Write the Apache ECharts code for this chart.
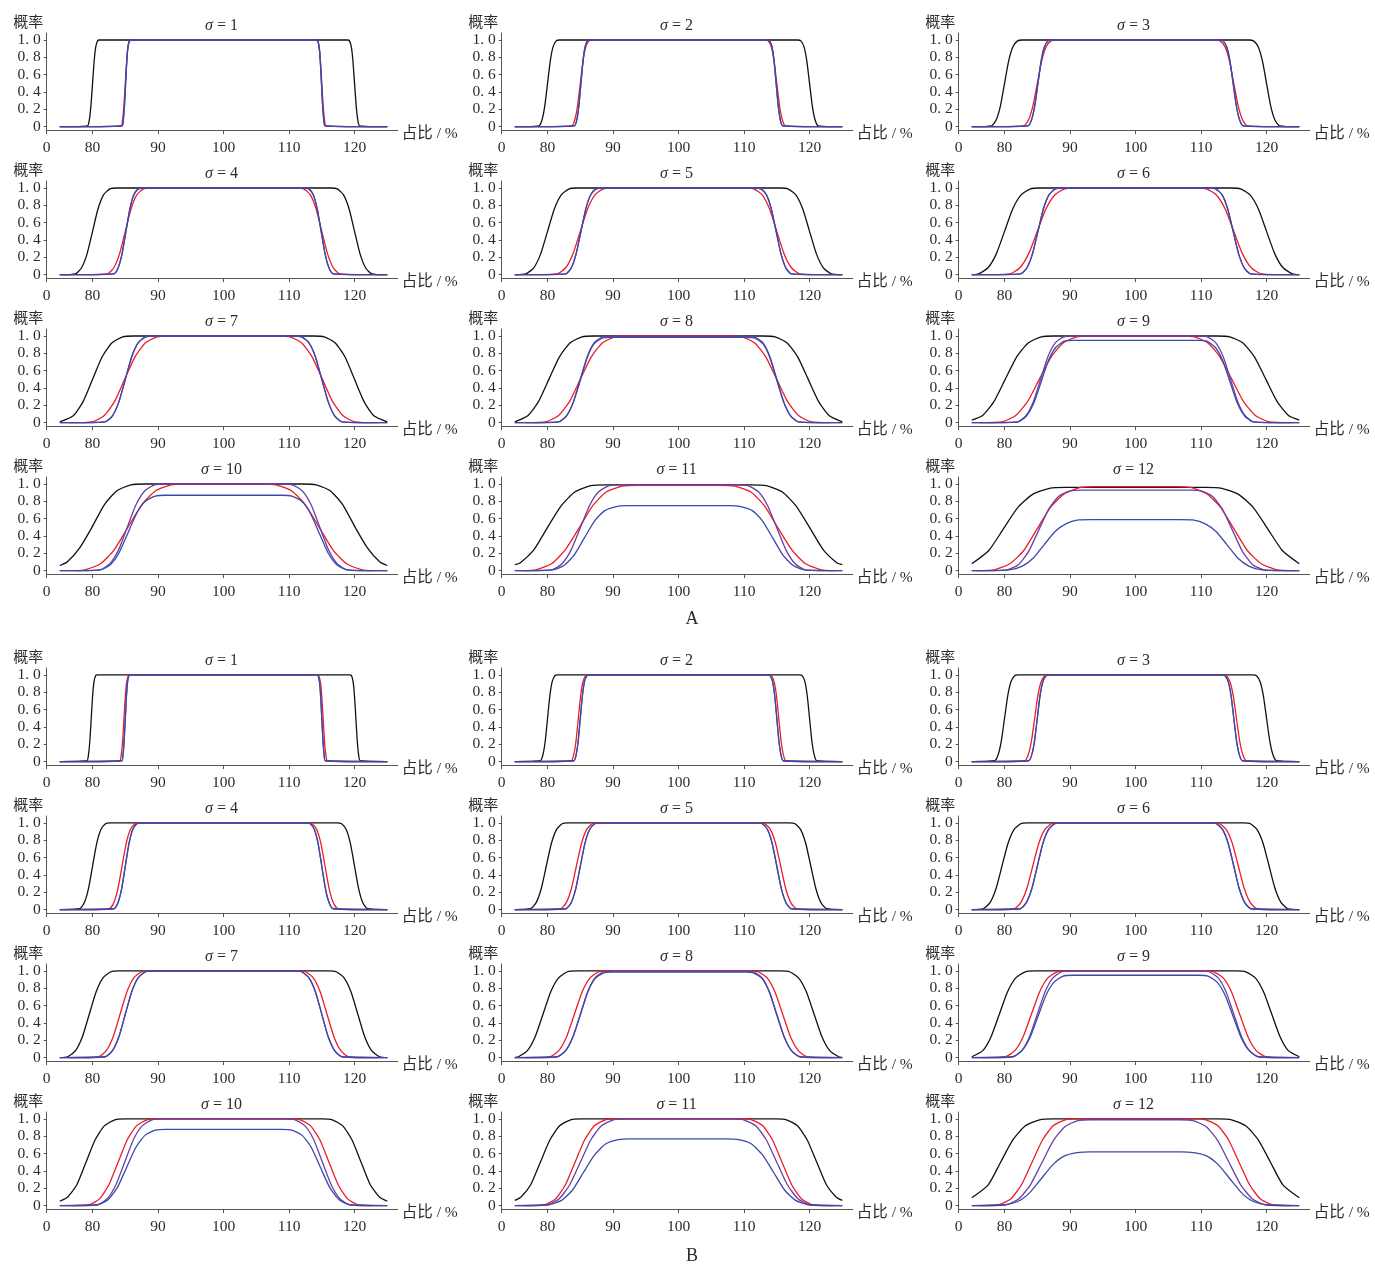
<!DOCTYPE html>
<html><head><meta charset="utf-8">
<script src="https://cdn.jsdelivr.net/npm/echarts@6/dist/echarts.min.js"></script>
<style>html,body{margin:0;padding:0;background:#fff}#c{width:1375px;height:1265px}</style>
</head><body><div id="c"></div>
<script>
// ---------- axis / labels ----------
const sigmas = [1,2,3,4,5,6,7,8,9,10,11,12];
const groupNames = ['A','B'];
const xTickValues = [73,80,90,100,110,120];
const xTickLabels = ['0','80','90','100','110','120'];
const yTickValues = [0,0.2,0.4,0.6,0.8,1.0];
const yTickLabels = ['0','0. 2','0. 4','0. 6','0. 8','1. 0'];
const xAxisName = '占比 / %';
const yAxisName = '概率';

// ---------- group A ----------
const A1_black=[[75,0],[79.23,.01],[79.51,.08],[79.75,.24],[80,.5],[80.25,.76],[80.49,.92],[80.77,.99],[81.05,1],[118.95,1],[119.23,.99],[119.51,.92],[119.75,.76],[120,.5],[120.25,.24],[120.49,.08],[120.77,.01],[125,0]];
const A1_red=[[75,0],[84.34,.01],[84.58,.08],[84.79,.24],[85,.5],[85.21,.76],[85.42,.92],[85.66,.99],[85.9,1],[114.1,1],[114.34,.99],[114.58,.92],[114.79,.76],[115,.5],[115.21,.24],[115.42,.08],[115.66,.01],[125,0]];
const A1_blue=[[75,0],[84.5,.01],[84.7,.08],[84.87,.24],[85.05,.5],[85.23,.76],[85.4,.92],[85.6,.99],[85.8,1],[114.2,1],[114.4,.99],[114.6,.92],[114.77,.76],[114.95,.5],[115.13,.24],[115.3,.08],[115.5,.01],[125,0]];
const A1_purple=A1_blue;

const A2_black=[[75,0],[78.68,.01],[79.16,.08],[79.58,.24],[80,.5],[80.42,.76],[80.84,.92],[81.32,.99],[81.8,1],[118.2,1],[118.68,.99],[119.16,.92],[119.58,.76],[120,.5],[120.42,.24],[120.84,.08],[121.32,.01],[125,0]];
const A2_red=[[75,0],[83.68,.01],[84.16,.08],[84.58,.24],[85,.5],[85.42,.76],[85.84,.92],[86.32,.99],[86.8,1],[113.2,1],[113.68,.99],[114.16,.92],[114.58,.76],[115,.5],[115.42,.24],[115.84,.08],[116.32,.01],[125,0]];
const A2_blue=[[75,0],[84.11,.01],[84.47,.08],[84.78,.24],[85.1,.5],[85.42,.76],[85.73,.92],[86.09,.99],[86.45,1],[113.55,1],[113.91,.99],[114.27,.92],[114.58,.76],[114.9,.5],[115.22,.24],[115.53,.08],[115.89,.01],[125,0]];
const A2_purple=A2_blue;

const A3_black=[[75,0],[78.02,.01],[78.74,.08],[79.37,.24],[80,.5],[80.63,.76],[81.26,.92],[81.98,.99],[82.7,1],[117.3,1],[118.02,.99],[118.74,.92],[119.37,.76],[120,.5],[120.63,.24],[121.26,.08],[121.98,.01],[125,0]];
const A3_red=[[75,0],[82.91,.01],[83.67,.08],[84.33,.24],[85,.5],[85.67,.76],[86.33,.92],[87.09,.99],[87.85,1],[112.15,1],[112.91,.99],[113.67,.92],[114.33,.76],[115,.5],[115.67,.24],[116.33,.08],[117.09,.01],[125,0]];
const A3_blue=[[75,0],[83.56,.01],[84.12,.08],[84.61,.24],[85.1,.5],[85.59,.76],[86.08,.92],[86.64,.99],[87.2,1],[112.8,1],[113.36,.99],[113.92,.92],[114.41,.76],[114.9,.5],[115.39,.24],[115.88,.08],[116.44,.01],[125,0]];
const A3_purple=A3_blue;

const A4_black=[[75,0],[77.36,.01],[78.32,.08],[79.16,.24],[80,.5],[80.84,.76],[81.68,.92],[82.64,.99],[83.6,1],[116.4,1],[117.36,.99],[118.32,.92],[119.16,.76],[120,.5],[120.84,.24],[121.68,.08],[122.64,.01],[125,0]];
const A4_red=[[75,0],[82.25,.01],[83.25,.08],[84.12,.24],[85,.5],[85.88,.76],[86.75,.92],[87.75,.99],[88.75,1],[111.25,1],[112.25,.99],[113.25,.92],[114.12,.76],[115,.5],[115.88,.24],[116.75,.08],[117.75,.01],[125,0]];
const A4_blue=[[75,0],[83.23,.01],[83.91,.08],[84.5,.24],[85.1,.5],[85.7,.76],[86.29,.92],[86.97,.99],[87.65,1],[112.35,1],[113.03,.99],[113.71,.92],[114.3,.76],[114.9,.5],[115.5,.24],[116.09,.08],[116.77,.01],[125,0]];
const A4_purple=A4_blue;

const A5_black=[[75,0],[76.7,.01],[77.9,.08],[78.95,.24],[80,.5],[81.05,.76],[82.1,.92],[83.3,.99],[84.5,1],[115.5,1],[116.7,.99],[117.9,.92],[118.95,.76],[120,.5],[121.05,.24],[122.1,.08],[123.3,.01],[125,0]];
const A5_red=[[75,0],[81.48,.01],[82.76,.08],[83.88,.24],[85,.5],[86.12,.76],[87.24,.92],[88.52,.99],[89.8,1],[110.2,1],[111.48,.99],[112.76,.92],[113.88,.76],[115,.5],[116.12,.24],[117.24,.08],[118.52,.01],[125,0]];
const A5_blue=[[75,0],[82.79,.01],[83.63,.08],[84.36,.24],[85.1,.5],[85.84,.76],[86.57,.92],[87.41,.99],[88.25,1],[111.75,1],[112.59,.99],[113.43,.92],[114.16,.76],[114.9,.5],[115.64,.24],[116.37,.08],[117.21,.01],[125,0]];
const A5_purple=A5_blue;

const A6_black=[[75,0],[76.04,.01],[77.48,.08],[78.74,.24],[80,.5],[81.26,.76],[82.52,.92],[83.96,.99],[85.4,1],[114.6,1],[116.04,.99],[117.48,.92],[118.74,.76],[120,.5],[121.26,.24],[122.52,.08],[123.96,.01],[125,0]];
const A6_red=[[75,0],[80.82,.01],[82.34,.08],[83.67,.24],[85,.5],[86.33,.76],[87.66,.92],[89.18,.99],[90.7,1],[109.3,1],[110.82,.99],[112.34,.92],[113.67,.76],[115,.5],[116.33,.24],[117.66,.08],[119.18,.01],[125,0]];
const A6_blue=[[75,0],[82.46,.01],[83.42,.08],[84.26,.24],[85.1,.5],[85.94,.76],[86.78,.92],[87.74,.99],[88.7,1],[111.3,1],[112.26,.99],[113.22,.92],[114.06,.76],[114.9,.5],[115.74,.24],[116.58,.08],[117.54,.01],[125,0]];
const A6_purple=A6_blue;

const A7_black=[[75,.01],[77.06,.08],[78.53,.24],[80,.5],[81.47,.76],[82.94,.92],[84.62,.99],[86.3,1],[113.7,1],[115.38,.99],[117.06,.92],[118.53,.76],[120,.5],[121.47,.24],[122.94,.08],[125,.01]];
const A7_red=[[76.5,0],[79.95,.01],[81.75,.08],[83.32,.24],[84.9,.5],[86.48,.76],[88.05,.92],[89.85,.99],[91.65,1],[108.35,1],[110.15,.99],[111.95,.92],[113.52,.76],[115.1,.5],[116.68,.24],[118.25,.08],[120.05,.01],[123.5,0]];
const A7_blue=[[75,0],[81.92,.01],[83.04,.08],[84.02,.24],[85,.5],[85.98,.76],[86.96,.92],[88.08,.99],[89.2,1],[110.8,1],[111.92,.99],[113.04,.92],[114.02,.76],[115,.5],[115.98,.24],[116.96,.08],[118.08,.01],[125,0]];
const A7_purple=A7_blue;

const A8_black=[[75,.01],[76.98,.08],[78.59,.24],[80.2,.5],[81.81,.76],[83.42,.92],[85.26,.99],[87.1,1],[112.9,1],[114.74,.99],[116.58,.92],[118.19,.76],[119.8,.5],[121.41,.24],[123.02,.08],[125,.01]];
const A8_red=[[76.8,0],[79.72,.01],[81.64,.08],[83.32,.24],[85,.5],[86.68,.76],[88.36,.92],[90.28,.99],[92.2,1],[107.8,1],[109.72,.99],[111.64,.92],[113.32,.76],[115,.5],[116.68,.24],[118.36,.08],[120.28,.01],[123.2,0]];
const A8_purple=[[75,0],[81.7,.01],[82.9,.08],[83.95,.24],[85,.5],[86.05,.76],[87.1,.92],[88.3,.985],[89.5,.995],[110.5,.995],[111.7,.985],[112.9,.92],[113.95,.76],[115,.5],[116.05,.24],[117.1,.08],[118.3,.01],[125,0]];
const A8_blue=[[75,0],[81.7,.01],[82.9,.08],[83.95,.24],[85,.49],[86.05,.75],[87.1,.91],[88.3,.975],[89.5,.985],[110.5,.985],[111.7,.975],[112.9,.91],[113.95,.75],[115,.49],[116.05,.24],[117.1,.08],[118.3,.01],[125,0]];

const A9_black=[[75,.03],[76.6,.08],[78.35,.24],[80.1,.5],[81.85,.76],[83.6,.92],[85.6,.99],[87.6,1],[112.4,1],[114.4,.99],[116.4,.92],[118.15,.76],[119.9,.5],[121.65,.24],[123.4,.08],[125,.03]];
const A9_red=[[76.2,0],[79.58,.01],[81.66,.08],[83.48,.24],[85.3,.5],[87.12,.76],[88.94,.92],[91.02,.99],[93.1,1],[106.9,1],[108.98,.99],[111.06,.92],[112.88,.76],[114.7,.5],[116.52,.24],[118.34,.08],[120.42,.01],[123.8,0]];
const A9_purple=[[75,0],[81.98,.01],[83.26,.08],[84.38,.24],[85.5,.5],[86.62,.76],[87.74,.92],[89.02,.99],[90.3,1],[109.7,1],[110.98,.99],[112.26,.92],[113.38,.76],[114.5,.5],[115.62,.24],[116.74,.08],[118.02,.01],[125,0]];
const A9_blue=[[75,0],[82.08,.01],[83.36,.08],[84.48,.23],[85.6,.475],[86.72,.72],[87.84,.87],[89.12,.94],[90.4,.95],[109.6,.95],[110.88,.94],[112.16,.87],[113.28,.72],[114.4,.475],[115.52,.23],[116.64,.08],[117.92,.01],[125,0]];

const A10_black=[[75,.06],[76.12,.1],[78.01,.26],[79.9,.5],[81.79,.76],[83.68,.92],[85.84,.99],[88,1],[112,1],[114.16,.99],[116.32,.92],[118.21,.76],[120.1,.5],[121.99,.26],[123.88,.1],[125,.06]];
const A10_red=[[77.3,0],[78.8,.01],[81.2,.08],[83.3,.24],[85.4,.5],[87.5,.76],[89.6,.92],[92,.99],[94.4,1],[105.6,1],[108,.99],[110.4,.92],[112.5,.76],[114.6,.5],[116.7,.24],[118.8,.08],[121.2,.01],[122.7,0]];
const A10_purple=[[75,0],[81.12,.01],[82.64,.08],[83.97,.24],[85.3,.5],[86.63,.76],[87.96,.92],[89.48,.99],[91,1],[109,1],[110.52,.99],[112.04,.92],[113.37,.76],[114.7,.5],[116.03,.24],[117.36,.08],[118.88,.01],[125,0]];
const A10_blue=[[75,0],[81.22,.01],[82.74,.07],[84.07,.21],[85.4,.435],[86.73,.66],[88.06,.8],[89.58,.86],[91.1,.87],[108.9,.87],[110.42,.86],[111.94,.8],[113.27,.66],[114.6,.435],[115.93,.21],[117.26,.07],[118.78,.01],[125,0]];

const A11_black=[[75,.07],[75.8,.09],[77.9,.24],[80,.5],[82.1,.75],[84.2,.91],[86.6,.98],[89,.99],[111,.99],[113.4,.98],[115.8,.91],[117.9,.75],[120,.5],[122.1,.24],[124.2,.09],[125,.07]];
const A11_red=[[76.1,0],[78.2,.01],[80.6,.08],[82.7,.24],[84.8,.49],[86.9,.75],[89,.91],[91.4,.975],[93.8,.985],[106.2,.985],[108.6,.975],[111,.91],[113.1,.75],[115.2,.49],[117.3,.24],[119.4,.08],[121.8,.01],[123.9,0]];
const A11_purple=[[75,0],[80.6,.01],[82.2,.08],[83.6,.24],[85,.495],[86.4,.75],[87.8,.91],[89.4,.98],[91,.99],[109,.99],[110.6,.98],[112.2,.91],[113.6,.75],[115,.495],[116.4,.24],[117.8,.08],[119.4,.01],[125,0]];
const A11_blue=[[75,0],[80.76,.01],[82.52,.06],[84.06,.18],[85.6,.375],[87.14,.57],[88.68,.69],[90.52,.74],[92.2,.75],[107.8,.75],[109.48,.74],[111.32,.69],[112.86,.57],[114.4,.375],[115.94,.18],[117.48,.06],[119.24,.01],[125,0]];

const A12_black=[[75,.08],[77.56,.23],[79.8,.48],[82.04,.73],[84.28,.88],[86.84,.95],[89.4,.96],[110.6,.96],[113.16,.95],[115.72,.88],[117.96,.73],[120.2,.48],[122.44,.23],[125,.08]];
const A12_red=[[75.7,0],[78.4,.01],[80.8,.08],[82.9,.23],[85,.485],[87.1,.74],[89.2,.89],[91.6,.96],[94,.97],[106,.97],[108.4,.96],[110.8,.89],[112.9,.74],[115,.485],[117.1,.23],[119.2,.08],[121.6,.01],[124.3,0]];
const A12_purple=[[75,0],[80.36,.01],[82.12,.07],[83.66,.22],[85.2,.465],[86.74,.71],[88.28,.86],[90.04,.92],[91.8,.93],[108.2,.93],[109.96,.92],[111.72,.86],[113.26,.71],[114.8,.465],[116.34,.22],[117.88,.07],[119.64,.01],[125,0]];
const A12_blue=[[75,0],[80.72,.01],[82.64,.05],[84.32,.14],[86,.295],[87.68,.45],[89.36,.54],[91.28,.585],[93.2,.59],[106.8,.59],[108.72,.585],[110.64,.54],[112.32,.45],[114,.295],[115.68,.14],[117.36,.05],[119.28,.01],[125,0]];

// ---------- group B ----------
const B1_black=[[75,0],[79.14,.01],[79.38,.08],[79.59,.24],[79.8,.5],[80.01,.76],[80.22,.92],[80.46,.99],[80.7,1],[119.3,1],[119.54,.99],[119.78,.92],[119.99,.76],[120.2,.5],[120.41,.24],[120.62,.08],[120.86,.01],[125,0]];
const B1_red=[[75,0],[84.14,.01],[84.38,.08],[84.59,.24],[84.8,.5],[85.01,.76],[85.22,.92],[85.46,.99],[85.7,1],[114.3,1],[114.54,.99],[114.78,.92],[114.99,.76],[115.2,.5],[115.41,.24],[115.62,.08],[115.86,.01],[125,0]];
const B1_blue=[[75,0],[84.45,.01],[84.65,.08],[84.82,.24],[85,.5],[85.18,.76],[85.35,.92],[85.55,.99],[85.75,1],[114.25,1],[114.45,.99],[114.65,.92],[114.82,.76],[115,.5],[115.18,.24],[115.35,.08],[115.55,.01],[125,0]];
const B1_purple=B1_blue;

const B2_black=[[75,0],[78.9,.01],[79.3,.08],[79.65,.24],[80,.5],[80.35,.76],[80.7,.92],[81.1,.99],[81.5,1],[118.5,1],[118.9,.99],[119.3,.92],[119.65,.76],[120,.5],[120.35,.24],[120.7,.08],[121.1,.01],[125,0]];
const B2_red=[[75,0],[83.6,.01],[84,.08],[84.35,.24],[84.7,.5],[85.05,.76],[85.4,.92],[85.8,.99],[86.2,1],[113.8,1],[114.2,.99],[114.6,.92],[114.95,.76],[115.3,.5],[115.65,.24],[116,.08],[116.4,.01],[125,0]];
const B2_blue=[[75,0],[84.01,.01],[84.37,.08],[84.68,.24],[85,.5],[85.32,.76],[85.63,.92],[85.99,.99],[86.35,1],[113.65,1],[114.01,.99],[114.37,.92],[114.68,.76],[115,.5],[115.32,.24],[115.63,.08],[115.99,.01],[125,0]];
const B2_purple=B2_blue;

const B3_black=[[75,0],[78.46,.01],[79.02,.08],[79.51,.24],[80,.5],[80.49,.76],[80.98,.92],[81.54,.99],[82.1,1],[117.9,1],[118.46,.99],[119.02,.92],[119.51,.76],[120,.5],[120.49,.24],[120.98,.08],[121.54,.01],[125,0]];
const B3_red=[[75,0],[83.06,.01],[83.62,.08],[84.11,.24],[84.6,.5],[85.09,.76],[85.58,.92],[86.14,.99],[86.7,1],[113.3,1],[113.86,.99],[114.42,.92],[114.91,.76],[115.4,.5],[115.89,.24],[116.38,.08],[116.94,.01],[125,0]];
const B3_blue=[[75,0],[83.68,.01],[84.16,.08],[84.58,.24],[85,.5],[85.42,.76],[85.84,.92],[86.32,.99],[86.8,1],[113.2,1],[113.68,.99],[114.16,.92],[114.58,.76],[115,.5],[115.42,.24],[115.84,.08],[116.32,.01],[125,0]];
const B3_purple=B3_blue;

const B4_black=[[75,0],[78.02,.01],[78.74,.08],[79.37,.24],[80,.5],[80.63,.76],[81.26,.92],[81.98,.99],[82.7,1],[117.3,1],[118.02,.99],[118.74,.92],[119.37,.76],[120,.5],[120.63,.24],[121.26,.08],[121.98,.01],[125,0]];
const B4_red=[[75,0],[82.52,.01],[83.24,.08],[83.87,.24],[84.5,.5],[85.13,.76],[85.76,.92],[86.48,.99],[87.2,1],[112.8,1],[113.52,.99],[114.24,.92],[114.87,.76],[115.5,.5],[116.13,.24],[116.76,.08],[117.48,.01],[125,0]];
const B4_blue=[[75,0],[83.24,.01],[83.88,.08],[84.44,.24],[85,.5],[85.56,.76],[86.12,.92],[86.76,.99],[87.4,1],[112.6,1],[113.24,.99],[113.88,.92],[114.44,.76],[115,.5],[115.56,.24],[116.12,.08],[116.76,.01],[125,0]];
const B4_purple=B4_blue;

const B5_black=[[75,0],[77.38,.01],[78.26,.08],[79.03,.24],[79.8,.5],[80.57,.76],[81.34,.92],[82.22,.99],[83.1,1],[116.9,1],[117.78,.99],[118.66,.92],[119.43,.76],[120.2,.5],[120.97,.24],[121.74,.08],[122.62,.01],[125,0]];
const B5_red=[[75,0],[81.98,.01],[82.86,.08],[83.63,.24],[84.4,.5],[85.17,.76],[85.94,.92],[86.82,.99],[87.7,1],[112.3,1],[113.18,.99],[114.06,.92],[114.83,.76],[115.6,.5],[116.37,.24],[117.14,.08],[118.02,.01],[125,0]];
const B5_blue=[[75,0],[82.8,.01],[83.6,.08],[84.3,.24],[85,.5],[85.7,.76],[86.4,.92],[87.2,.99],[88,1],[112,1],[112.8,.99],[113.6,.92],[114.3,.76],[115,.5],[115.7,.24],[116.4,.08],[117.2,.01],[125,0]];
const B5_purple=B5_blue;

const B6_black=[[75,0],[76.74,.01],[77.78,.08],[78.69,.24],[79.6,.5],[80.51,.76],[81.42,.92],[82.46,.99],[83.5,1],[116.5,1],[117.54,.99],[118.58,.92],[119.49,.76],[120.4,.5],[121.31,.24],[122.22,.08],[123.26,.01],[125,0]];
const B6_red=[[75,0],[81.44,.01],[82.48,.08],[83.39,.24],[84.3,.5],[85.21,.76],[86.12,.92],[87.16,.99],[88.2,1],[111.8,1],[112.84,.99],[113.88,.92],[114.79,.76],[115.7,.5],[116.61,.24],[117.52,.08],[118.56,.01],[125,0]];
const B6_blue=[[75,0],[82.36,.01],[83.32,.08],[84.16,.24],[85,.5],[85.84,.76],[86.68,.92],[87.64,.99],[88.6,1],[111.4,1],[112.36,.99],[113.32,.92],[114.16,.76],[115,.5],[115.84,.24],[116.68,.08],[117.64,.01],[125,0]];
const B6_purple=B6_blue;

const B7_black=[[75,0],[76.2,.01],[77.4,.08],[78.45,.24],[79.5,.5],[80.55,.76],[81.6,.92],[82.8,.99],[84,1],[116,1],[117.2,.99],[118.4,.92],[119.45,.76],[120.5,.5],[121.55,.24],[122.6,.08],[123.8,.01],[125,0]];
const B7_red=[[76.5,0],[80.9,.01],[82.1,.08],[83.15,.24],[84.2,.5],[85.25,.76],[86.3,.92],[87.5,.99],[88.7,1],[111.3,1],[112.5,.99],[113.7,.92],[114.75,.76],[115.8,.5],[116.85,.24],[117.9,.08],[119.1,.01],[123.5,0]];
const B7_blue=[[75,0],[81.92,.01],[83.04,.08],[84.02,.24],[85,.5],[85.98,.76],[86.96,.92],[88.08,.99],[89.2,1],[110.8,1],[111.92,.99],[113.04,.92],[114.02,.76],[115,.5],[115.98,.24],[116.96,.08],[118.08,.01],[125,0]];
const B7_purple=B7_blue;

const B8_black=[[75,0],[75.56,.01],[76.92,.08],[78.11,.24],[79.3,.5],[80.49,.76],[81.68,.92],[83.04,.99],[84.4,1],[115.6,1],[116.96,.99],[118.32,.92],[119.51,.76],[120.7,.5],[121.89,.24],[123.08,.08],[124.44,.01],[125,0]];
const B8_red=[[76.5,0],[80.36,.01],[81.72,.08],[82.91,.24],[84.1,.5],[85.29,.76],[86.48,.92],[87.84,.99],[89.2,1],[110.8,1],[112.16,.99],[113.52,.92],[114.71,.76],[115.9,.5],[117.09,.24],[118.28,.08],[119.64,.01],[123.5,0]];
const B8_purple=[[75,0],[81.48,.01],[82.76,.08],[83.88,.24],[85,.5],[86.12,.76],[87.24,.92],[88.52,.99],[89.8,1],[110.2,1],[111.48,.99],[112.76,.92],[113.88,.76],[115,.5],[116.12,.24],[117.24,.08],[118.52,.01],[125,0]];
const B8_blue=[[75,0],[81.48,.01],[82.76,.08],[83.88,.24],[85,.49],[86.12,.75],[87.24,.91],[88.52,.975],[89.8,.985],[110.2,.985],[111.48,.975],[112.76,.91],[113.88,.75],[115,.49],[116.12,.24],[117.24,.08],[118.52,.01],[125,0]];

const B9_black=[[75,.01],[76.68,.08],[77.94,.24],[79.2,.5],[80.46,.76],[81.72,.92],[83.16,.99],[84.6,1],[115.4,1],[116.84,.99],[118.28,.92],[119.54,.76],[120.8,.5],[122.06,.24],[123.32,.08],[125,.01]];
const B9_red=[[76.5,0],[80.14,.01],[81.58,.08],[82.84,.24],[84.1,.5],[85.36,.76],[86.62,.92],[88.06,.99],[89.5,1],[110.5,1],[111.94,.99],[113.38,.92],[114.64,.76],[115.9,.5],[117.16,.24],[118.42,.08],[119.86,.01],[123.5,0]];
const B9_purple=[[75,0],[81.26,.01],[82.62,.08],[83.81,.24],[85,.5],[86.19,.76],[87.38,.92],[88.74,.99],[90.1,1],[109.9,1],[111.26,.99],[112.62,.92],[113.81,.76],[115,.5],[116.19,.24],[117.38,.08],[118.74,.01],[125,0]];
const B9_blue=[[75,0],[81.25,.01],[82.65,.08],[83.87,.23],[85.1,.475],[86.33,.72],[87.55,.87],[88.95,.94],[90.35,.95],[109.65,.95],[111.05,.94],[112.45,.87],[113.67,.72],[114.9,.475],[116.13,.23],[117.35,.08],[118.75,.01],[125,0]];

const B10_black=[[75,.05],[76.2,.1],[77.6,.24],[79,.5],[80.4,.76],[81.8,.92],[83.4,.99],[85,1],[115,1],[116.6,.99],[118.2,.92],[119.6,.76],[121,.5],[122.4,.24],[123.8,.1],[125,.05]];
const B10_red=[[76.8,0],[79.5,.01],[81.1,.08],[82.5,.24],[83.9,.5],[85.3,.76],[86.7,.92],[88.3,.99],[89.9,1],[110.1,1],[111.7,.99],[113.3,.92],[114.7,.76],[116.1,.5],[117.5,.24],[118.9,.08],[120.5,.01],[122.7,0]];
const B10_purple=[[75,0],[80.72,.01],[82.24,.08],[83.57,.24],[84.9,.5],[86.23,.76],[87.56,.92],[89.08,.99],[90.6,1],[109.4,1],[110.92,.99],[112.44,.92],[113.77,.76],[115.1,.5],[116.43,.24],[117.76,.08],[119.28,.01],[125,0]];
const B10_blue=[[75,0],[80.8,.01],[82.4,.07],[83.8,.21],[85.2,.44],[86.6,.67],[88,.81],[89.6,.87],[91.2,.88],[108.8,.88],[110.4,.87],[112,.81],[113.4,.67],[114.8,.44],[116.2,.21],[117.6,.07],[119.2,.01],[125,0]];

const B11_black=[[75,.06],[75.96,.1],[77.43,.24],[78.9,.5],[80.37,.76],[81.84,.92],[83.52,.99],[85.2,1],[114.8,1],[116.48,.99],[118.16,.92],[119.63,.76],[121.1,.5],[122.57,.24],[124.04,.1],[125,.06]];
const B11_red=[[76.3,0],[79.58,.01],[81.26,.08],[82.73,.24],[84.2,.5],[85.67,.76],[87.14,.92],[88.82,.99],[90.5,1],[109.5,1],[111.18,.99],[112.86,.92],[114.33,.76],[115.8,.5],[117.27,.24],[118.74,.08],[120.42,.01],[123.7,0]];
const B11_purple=[[75,0],[79.94,.01],[81.78,.08],[83.39,.24],[85,.5],[86.61,.76],[88.22,.92],[90.06,.99],[91.9,1],[108.1,1],[109.94,.99],[111.78,.92],[113.39,.76],[115,.5],[116.61,.24],[118.22,.08],[120.06,.01],[125,0]];
const B11_blue=[[75,0],[80.22,.01],[82.14,.06],[83.82,.18],[85.5,.385],[87.18,.585],[88.86,.71],[90.78,.76],[92.7,.77],[107.3,.77],[109.22,.76],[111.14,.71],[112.82,.585],[114.5,.385],[116.18,.18],[117.86,.06],[119.78,.01],[125,0]];

const B12_black=[[75,.09],[77.51,.24],[79.4,.5],[81.29,.76],[83.18,.92],[85.34,.99],[87.5,1],[112.5,1],[114.66,.99],[116.82,.92],[118.71,.76],[120.6,.5],[122.49,.24],[125,.09]];
const B12_red=[[76.3,0],[79.14,.01],[80.98,.08],[82.59,.24],[84.2,.5],[85.81,.76],[87.42,.92],[89.26,.99],[91.1,1],[108.9,1],[110.74,.99],[112.58,.92],[114.19,.76],[115.8,.5],[117.41,.24],[119.02,.08],[120.86,.01],[123.7,0]];
const B12_purple=[[75,0],[80.2,.01],[82.2,.08],[83.95,.24],[85.7,.495],[87.45,.75],[89.2,.91],[91.2,.98],[93.2,.99],[106.8,.99],[108.8,.98],[110.8,.91],[112.55,.75],[114.3,.495],[116.05,.24],[117.8,.08],[119.8,.01],[125,0]];
const B12_blue=[[75,0],[80.1,.01],[82.1,.05],[83.85,.15],[85.6,.31],[87.35,.47],[89.1,.57],[91.1,.61],[93.1,.62],[106.9,.62],[108.9,.61],[110.9,.57],[112.65,.47],[114.4,.31],[116.15,.15],[117.9,.05],[119.9,.01],[125,0]];

// ---------- tables built from the arrays ----------
const panelCurves = {
  A:[[A1_black,A1_red,A1_purple,A1_blue],[A2_black,A2_red,A2_purple,A2_blue],[A3_black,A3_red,A3_purple,A3_blue],[A4_black,A4_red,A4_purple,A4_blue],[A5_black,A5_red,A5_purple,A5_blue],[A6_black,A6_red,A6_purple,A6_blue],[A7_black,A7_red,A7_purple,A7_blue],[A8_black,A8_red,A8_purple,A8_blue],[A9_black,A9_red,A9_purple,A9_blue],[A10_black,A10_red,A10_purple,A10_blue],[A11_black,A11_red,A11_purple,A11_blue],[A12_black,A12_red,A12_purple,A12_blue]],
  B:[[B1_black,B1_red,B1_purple,B1_blue],[B2_black,B2_red,B2_purple,B2_blue],[B3_black,B3_red,B3_purple,B3_blue],[B4_black,B4_red,B4_purple,B4_blue],[B5_black,B5_red,B5_purple,B5_blue],[B6_black,B6_red,B6_purple,B6_blue],[B7_black,B7_red,B7_purple,B7_blue],[B8_black,B8_red,B8_purple,B8_blue],[B9_black,B9_red,B9_purple,B9_blue],[B10_black,B10_red,B10_purple,B10_blue],[B11_black,B11_red,B11_purple,B11_blue],[B12_black,B12_red,B12_purple,B12_blue]]
};

// ---------- layout ----------
const colLeft = [46.7, 501.7, 958.7];
const groupZeroY = [126.7, 761.6];
const rowStep = 148;
const unitPx = 86.7;
const xMin = 73, xMax = 126.6, yMin = -0.04, yMax = 1.08;
const pxPerX = 6.55;
const lineColors = ['#111111', '#ee1c25', '#6a40a6', '#3a4aa8'];
const FONT = "'Liberation Serif','Noto Sans CJK SC',serif";
const TXT = '#2b2b2b', AX = '#555555';

const grids=[], xAxes=[], yAxes=[], series=[], graphics=[];
const gridW = (xMax - xMin) * pxPerX;
function labelFor(vals, labels, v){ let best=0; vals.forEach((t,i)=>{ if(Math.abs(t-v)<Math.abs(vals[best]-v)) best=i; }); return labels[best]; }

groupNames.forEach((g, gi) => {
  sigmas.forEach((s, si) => {
    const r = Math.floor(si/3), c = si%3;
    const k = grids.length;
    const y0 = groupZeroY[gi] + r*rowStep;
    const left = colLeft[c];
    grids.push({left: left, top: y0 - yMax*unitPx, width: gridW, height: (yMax-yMin)*unitPx});
    xAxes.push({gridIndex:k, type:'value', min:xMin, max:xMax,
      axisLine:{show:true,onZero:false,lineStyle:{color:AX,width:1}},
      axisTick:{show:true,inside:false,length:4,customValues:xTickValues,lineStyle:{color:AX}},
      axisLabel:{show:true,customValues:xTickValues,margin:10,fontSize:15.5,fontFamily:FONT,color:TXT,
        formatter:v=>labelFor(xTickValues,xTickLabels,v)},
      splitLine:{show:false}});
    yAxes.push({gridIndex:k, type:'value', min:yMin, max:yMax,
      axisLine:{show:true,onZero:false,lineStyle:{color:AX,width:1}},
      axisTick:{show:true,inside:false,length:3,customValues:yTickValues,lineStyle:{color:AX}},
      axisLabel:{show:true,customValues:yTickValues,margin:6,fontSize:15.5,fontFamily:FONT,color:TXT,
        formatter:v=>labelFor(yTickValues,yTickLabels,v)},
      splitLine:{show:false}});
    panelCurves[g][si].forEach((d, j) => {
      series.push({type:'line', xAxisIndex:k, yAxisIndex:k, data:d, showSymbol:false, symbol:'none',
        smooth:0.2,
        lineStyle:{width:1.3,color:lineColors[j]}, itemStyle:{color:lineColors[j]}, z:2+j, silent:true, clip:false});
    });
    graphics.push({type:'text', style:{text:'{i|σ} = '+s, x:left+(100-xMin)*pxPerX-2, y:y0-unitPx-14, align:'center', verticalAlign:'middle',
      font:'16px '+FONT, fill:TXT, rich:{i:{fontStyle:'italic',fontSize:16,fontFamily:FONT,fill:TXT}}}});
    graphics.push({type:'text', style:{text:yAxisName, x:left-3.5, y:y0-104, align:'right', verticalAlign:'middle', font:'15px '+FONT, fill:TXT}});
    graphics.push({type:'text', style:{text:xAxisName, x:left+gridW+4, y:y0+7, align:'left', verticalAlign:'middle', font:'15.5px '+FONT, fill:TXT}});
  });
});
graphics.push({type:'text', style:{text:'A', x:692, y:619, align:'center', verticalAlign:'middle', font:'18px '+FONT, fill:TXT}});
graphics.push({type:'text', style:{text:'B', x:692, y:1256, align:'center', verticalAlign:'middle', font:'18px '+FONT, fill:TXT}});

const chart = echarts.init(document.getElementById('c'), null, {renderer:'canvas'});
chart.setOption({animation:false, backgroundColor:'#fff', grid:grids, xAxis:xAxes, yAxis:yAxes, series:series, graphic:graphics});
</script></body></html>
